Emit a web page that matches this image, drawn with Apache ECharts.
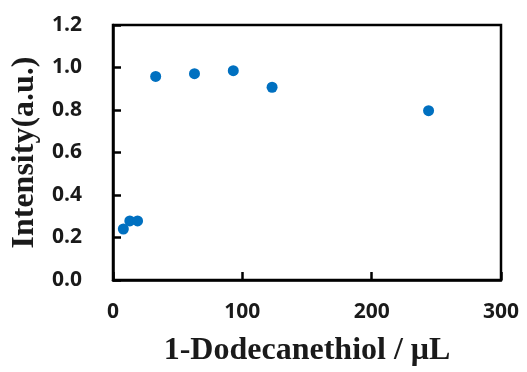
<!DOCTYPE html>
<html>
<head>
<meta charset="utf-8">
<script src="https://cdn.jsdelivr.net/npm/echarts@6/dist/echarts.min.js"></script>
<style>
  html, body { margin: 0; padding: 0; background: #fff; }
  #main { width: 527px; height: 372px; }
</style>
</head>
<body>
<div id="main"></div>
<script>
// dodecanethiol volume (uL) vs normalised intensity
const volumes = [8, 13, 19, 33, 63, 93, 123, 244];
const intensity = [0.24, 0.278, 0.278, 0.958, 0.971, 0.985, 0.907, 0.797];
const xTicks = [0, 100, 200, 300];
const yTicks = [0.0, 0.2, 0.4, 0.6, 0.8, 1.0, 1.2];

const points = volumes.map((v, i) => [v, intensity[i]]);

const chart = echarts.init(document.getElementById('main'));

const tickFont = {
  fontFamily: 'Open Sans',
  fontWeight: 'bold',
  fontSize: 21,
  color: '#1a1a1a'
};
const titleFont = {
  fontFamily: 'Liberation Serif',
  fontWeight: 'bold',
  fontSize: 32,
  color: '#1a1a1a'
};

chart.setOption({
  animation: false,
  grid: {
    left: 113, right: 26, top: 25, bottom: 92,
    containLabel: false,
    outerBoundsMode: 'none',
    show: true,
    borderColor: '#000',
    borderWidth: 2.5,
    backgroundColor: 'transparent'
  },
  xAxis: {
    type: 'value',
    min: xTicks[0],
    max: xTicks[xTicks.length - 1],
    interval: 100,
    name: '1-Dodecanethiol / μL',
    nameLocation: 'middle',
    nameGap: 55,
    nameTextStyle: titleFont,
    axisLine: { show: true, lineStyle: { color: '#000', width: 2.5 } },
    axisTick: { show: true, inside: true, length: 8, lineStyle: { color: '#000', width: 2.5 } },
    axisLabel: Object.assign({ margin: 22, formatter: v => String(v) }, tickFont),
    splitLine: { show: false }
  },
  yAxis: {
    type: 'value',
    min: yTicks[0],
    max: yTicks[yTicks.length - 1],
    interval: 0.2,
    name: 'Intensity(a.u.)',
    nameLocation: 'middle',
    nameGap: 72,
    nameTextStyle: titleFont,
    axisLine: { show: true, lineStyle: { color: '#000', width: 2.5 } },
    axisTick: { show: true, inside: true, length: 8, lineStyle: { color: '#000', width: 2.5 } },
    axisLabel: Object.assign({ margin: 31, formatter: v => v.toFixed(1) }, tickFont),
    splitLine: { show: false }
  },
  series: [{
    type: 'scatter',
    data: points,
    symbol: 'circle',
    symbolSize: 11,
    itemStyle: { color: '#0070C0', opacity: 1 }
  }]
});
</script>
</body>
</html>
